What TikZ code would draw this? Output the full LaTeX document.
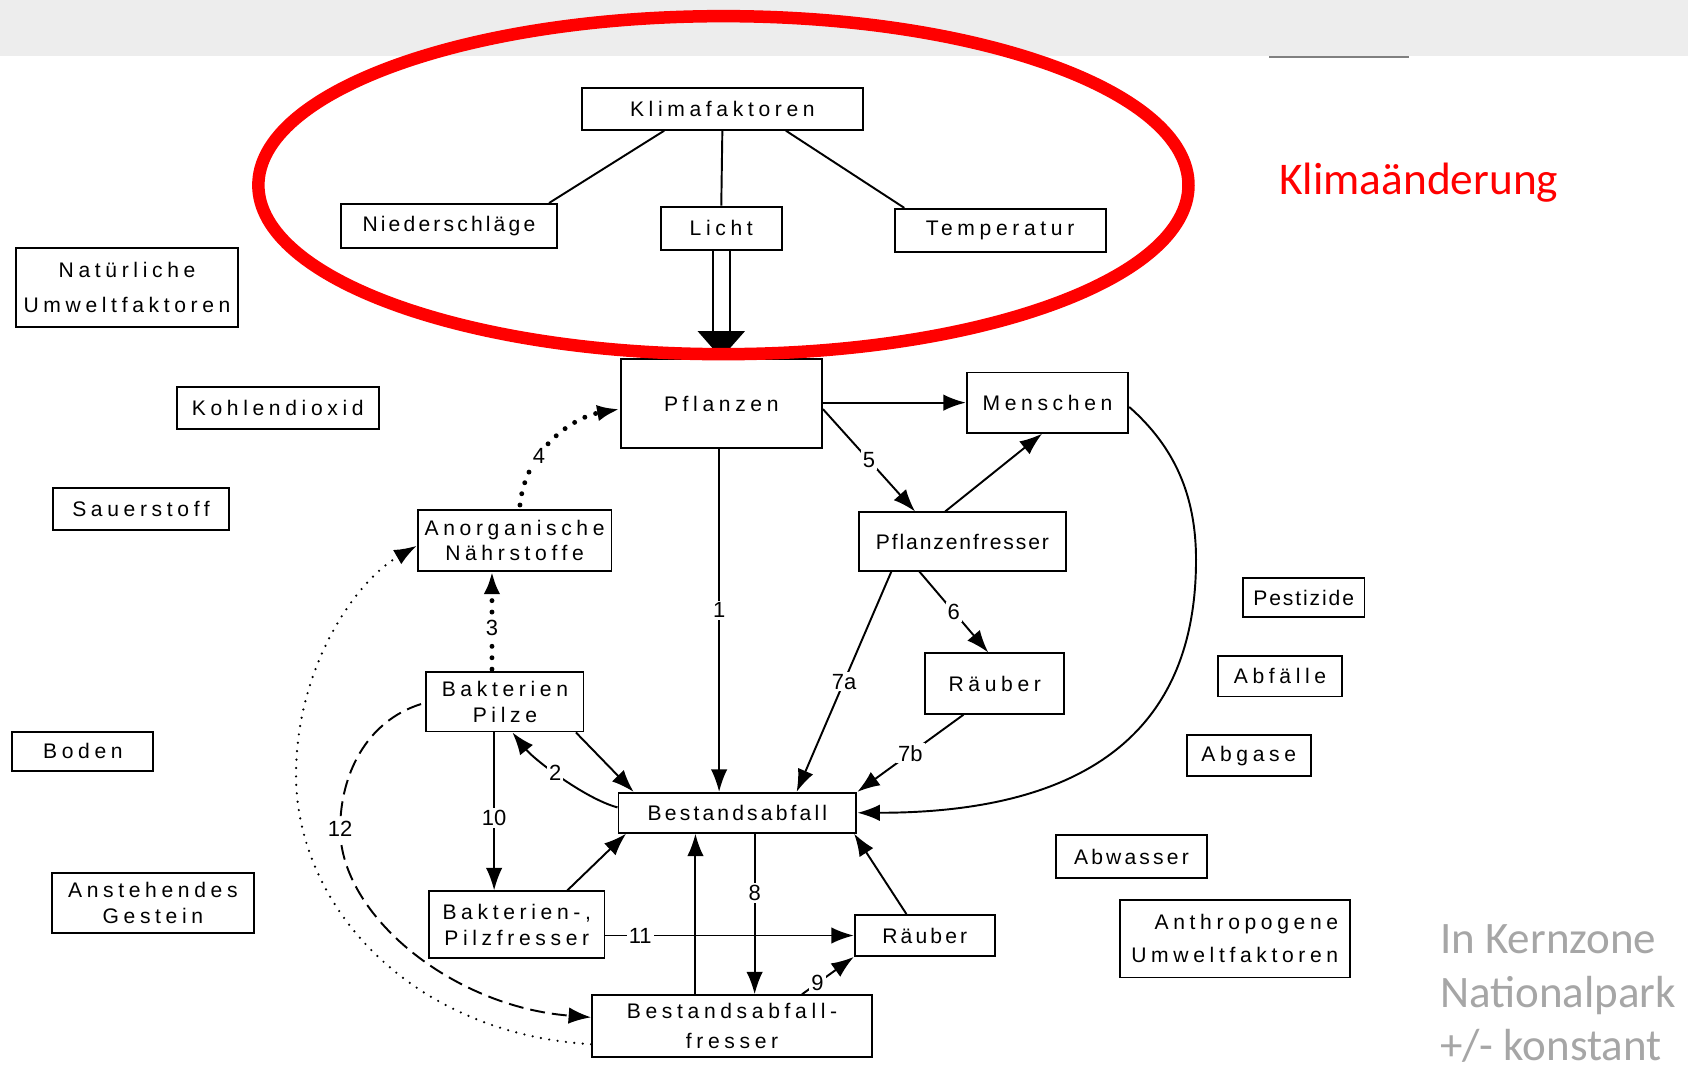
\documentclass[tikz,border=0pt]{standalone}
\usepackage{fontspec}
\setmainfont{Liberation Sans}
\newfontfamily\boxfont[LetterSpace=22]{Liberation Sans}
\newfontfamily\midfont[LetterSpace=15]{Liberation Sans}
\newfontfamily\tightfont[LetterSpace=9]{Liberation Sans}
\newfontfamily\slidefont{Carlito}
\usetikzlibrary{arrows.meta, calc, positioning}
\tikzset{>={Latex[length=0.45cm,width=0.33cm]}}
\definecolor{topbar}{HTML}{EDEDED}
\definecolor{notegray}{HTML}{A6A6A6}
\tikzset{
  box/.style 2 args={draw, line width=1.1pt, minimum width=#1*0.02153cm, minimum height=#2*0.02153cm,
    inner sep=0pt, align=center, font=\boxfont\fontsize{12}{15}\selectfont},
  mid/.style={font=\midfont\fontsize{12}{15}\selectfont},
  tight/.style={font=\tightfont\fontsize{12}{15}\selectfont},
  flow/.style={->, line width=1.1pt},
  num/.style={fill=white, inner sep=1.2pt, font=\fontsize{12.5}{14}\selectfont},
  bigdots/.style={->, line width=2.8pt, line cap=round, dash pattern=on 0pt off 6.5pt},
  finedots/.style={->, line width=1.4pt, line cap=round, dash pattern=on 0pt off 4.8pt},
  dashes/.style={->, line width=1.1pt, dash pattern=on 8.5pt off 4pt},
}

\begin{document}
\begin{tikzpicture}[x=0.02153cm, y=-0.02153cm]
    \useasboundingbox (0,0) rectangle (1568,1009);
    \fill[white] (0,0) rectangle (1568,1009);
    \fill[topbar] (0,0) rectangle (1568,52);
    \draw[gray, line width=0.8pt] (1179,53) -- (1309,53);

    % climate factors
    \node[box={261}{39}] (klima) at (671,101) {Klimafaktoren};
    \node[box={200}{41}, mid] (nieder) at (417,210) {Niederschläge};
    \node[box={112}{40}] (licht) at (670,212) {Licht};
    \node[box={196}{40}] (temp) at (929,214) {Temperatur};

    % natural factors
    \node[box={207}{74}] (natur) at (118,267) {Natürliche\\[5pt]Umweltfaktoren};
    \node[box={188}{39}] (kohlen) at (258,379) {Kohlendioxid};
    \node[box={163}{39}] (sauer) at (131,473) {Sauerstoff};
    \node[box={131}{36}] (boden) at (77,698) {Boden};
    \node[box={188}{56}] (gestein) at (142,839) {Anstehendes\\Gestein};

    % food web
    \node[box={187}{83}] (pfl) at (670,375) {Pflanzen};
    \node[box={150}{56}] (mensch) at (973,374) {Menschen};
    \node[box={192}{54}, tight] (pfr) at (894,503) {Pflanzenfresser};
    \node[box={180}{56}] (anorg) at (478,502) {Anorganische\\[-1pt]Nährstoffe};
    \node[box={146}{55}] (bakt) at (469,652) {Bakterien\\Pilze};
    \node[box={129}{56}] (raeuberA) at (924,635) {Räuber};
    \node[box={221}{37}, mid] (abfall) at (685,755) {Bestandsabfall};
    \node[box={163}{62}] (bpf) at (480,859) {Bakterien-,\\Pilzfresser};
    \node[box={130}{38}, mid] (raeuberB) at (859,869) {Räuber};
    \node[box={260}{57}] (bafr) at (680,953) {Bestandsabfall-\\[2pt]fresser};

    % anthropogenic factors
    \node[box={113}{37}, tight] (pest) at (1211,555) {Pestizide};
    \node[box={115}{38}] (abfae) at (1189,628) {Abfälle};
    \node[box={115}{38}] (abgase) at (1160,702) {Abgase};
    \node[box={141}{40}, mid] (abw) at (1051,796) {Abwasser};
    \node[box={214}{72}, align=right] (anthro) at (1147,872) {Anthropogene\\[4pt]Umweltfaktoren};

    \draw[line width=1.1pt] ($(klima.south)+(-54,0)$) -- ($(nieder.north)+(93,0)$);
    \draw[line width=1.1pt] (klima.south) -- (licht.north);
    \draw[line width=1.1pt] ($(klima.south)+(59,0)$) -- ($(temp.north)+(-89,0)$);
    \draw[line width=1.1pt] ($(licht.south)+(-8,0)$) -- ($(pfl.north)+(-8,-25)$);
    \draw[line width=1.1pt] ($(licht.south)+(8,0)$) -- ($(pfl.north)+(8,-25)$);
    \fill (pfl.north) -- ++(-22,-25) -- ++(44,0) -- cycle;

    \draw[flow] (pfl.east |- mensch.west) -- (mensch.west);
    \draw[flow] ($(pfl.east)+(0,5)$) -- node[num]{5} ($(pfr.north)+(-44,0)$);
    \draw[flow] ($(pfr.north)+(-16,0)$) -- ($(mensch.south)+(-5,0)$);
    \draw[flow] ($(mensch.east)+(0,4)$) .. controls +(42,37) and +(0,-60) .. (1111,520)
        .. controls +(0,116) and +(261,0) .. (abfall.east);
    \draw[flow] ($(pfl.south)+(-2,0)$) -- node[num, pos=0.47]{1} ($(abfall.north)+(-17,0)$);
    \draw[flow] ($(pfr.south)+(-66,0)$) -- node[num]{7a} ($(abfall.north)+(55,0)$);
    \draw[flow] ($(pfr.south)+(-40,0)$) -- node[num]{6} ($(raeuberA.north)+(-6,0)$);
    \draw[flow] ($(raeuberA.south)+(-29,0)$) -- node[num]{7b} (abfall.north east);

    \draw[flow] ($(bakt.south)+(66,0)$) -- ($(abfall.north west)+(15,0)$);
    \draw[flow] ($(abfall.west)+(0,-5)$) .. controls +(-30,-8) and +(20,25) .. node[num, pos=0.55]{2} ($(bakt.south)+(7,0)$);
    \draw[flow] ($(bakt.south)+(-10,0)$) -- node[num, pos=0.54]{10} ($(bpf.north)+(-21,0)$);
    \draw[flow] ($(bpf.north)+(47,0)$) -- ($(abfall.south west)+(8,0)$);
    \draw[flow] ($(bpf.east)+(0,10)$) -- node[num, pos=0.14]{11} (raeuberB.west);
    \draw[flow] ($(bafr.north)+(-34,0)$) -- ($(abfall.south)+(-39,0)$);
    \draw[flow] ($(abfall.south)+(16,0)$) -- node[num, pos=0.37]{8} ($(bafr.north)+(21,0)$);
    \draw[flow] ($(bafr.north)+(65,0)$) -- node[num, pos=0.3]{9} (raeuberB.south west);
    \draw[flow] ($(raeuberB.north)+(-17,0)$) -- ($(abfall.south east)+(-3,0)$);

    \draw[bigdots] ($(bakt.north)+(-12,-2)$) -- node[num, pos=0.42]{3} ($(anorg.south)+(-21,0)$);
    \draw[bigdots] ($(anorg.north)+(5,-4)$) .. controls +(5,-50) and +(-45,8) .. node[num, pos=0.35]{4} ($(pfl.west)+(0,5)$);
    \draw[finedots] ($(bafr.west)+(0,17)$) .. controls (380,960) and (275,840) .. (275,720)
        .. controls (275,620) and (330,540) .. ($(anorg.west)+(0,5)$);
    \draw[dashes] ($(bakt.west)+(-4,2)$) .. controls (340,670) and (316,720) .. (316,770) node[num]{12}
        .. controls (316,850) and (420,935) .. ($(bafr.west)+(0,-8)$);

    % slide annotations
    \draw[red, line width=0.25cm] (672,172) ellipse [x radius=432, y radius=157];
    \node[text=red, font=\slidefont\fontsize{25.8}{31}\selectfont] (klimawandel) at (1318,170) {Klimaänderung};
    \node[anchor=west, align=left, text=notegray, font=\slidefont\fontsize{25.6}{30.6}\selectfont] (kernzone) at (1332,923) {In Kernzone\\Nationalpark\\+/- konstant};
\end{tikzpicture}
\end{document}
